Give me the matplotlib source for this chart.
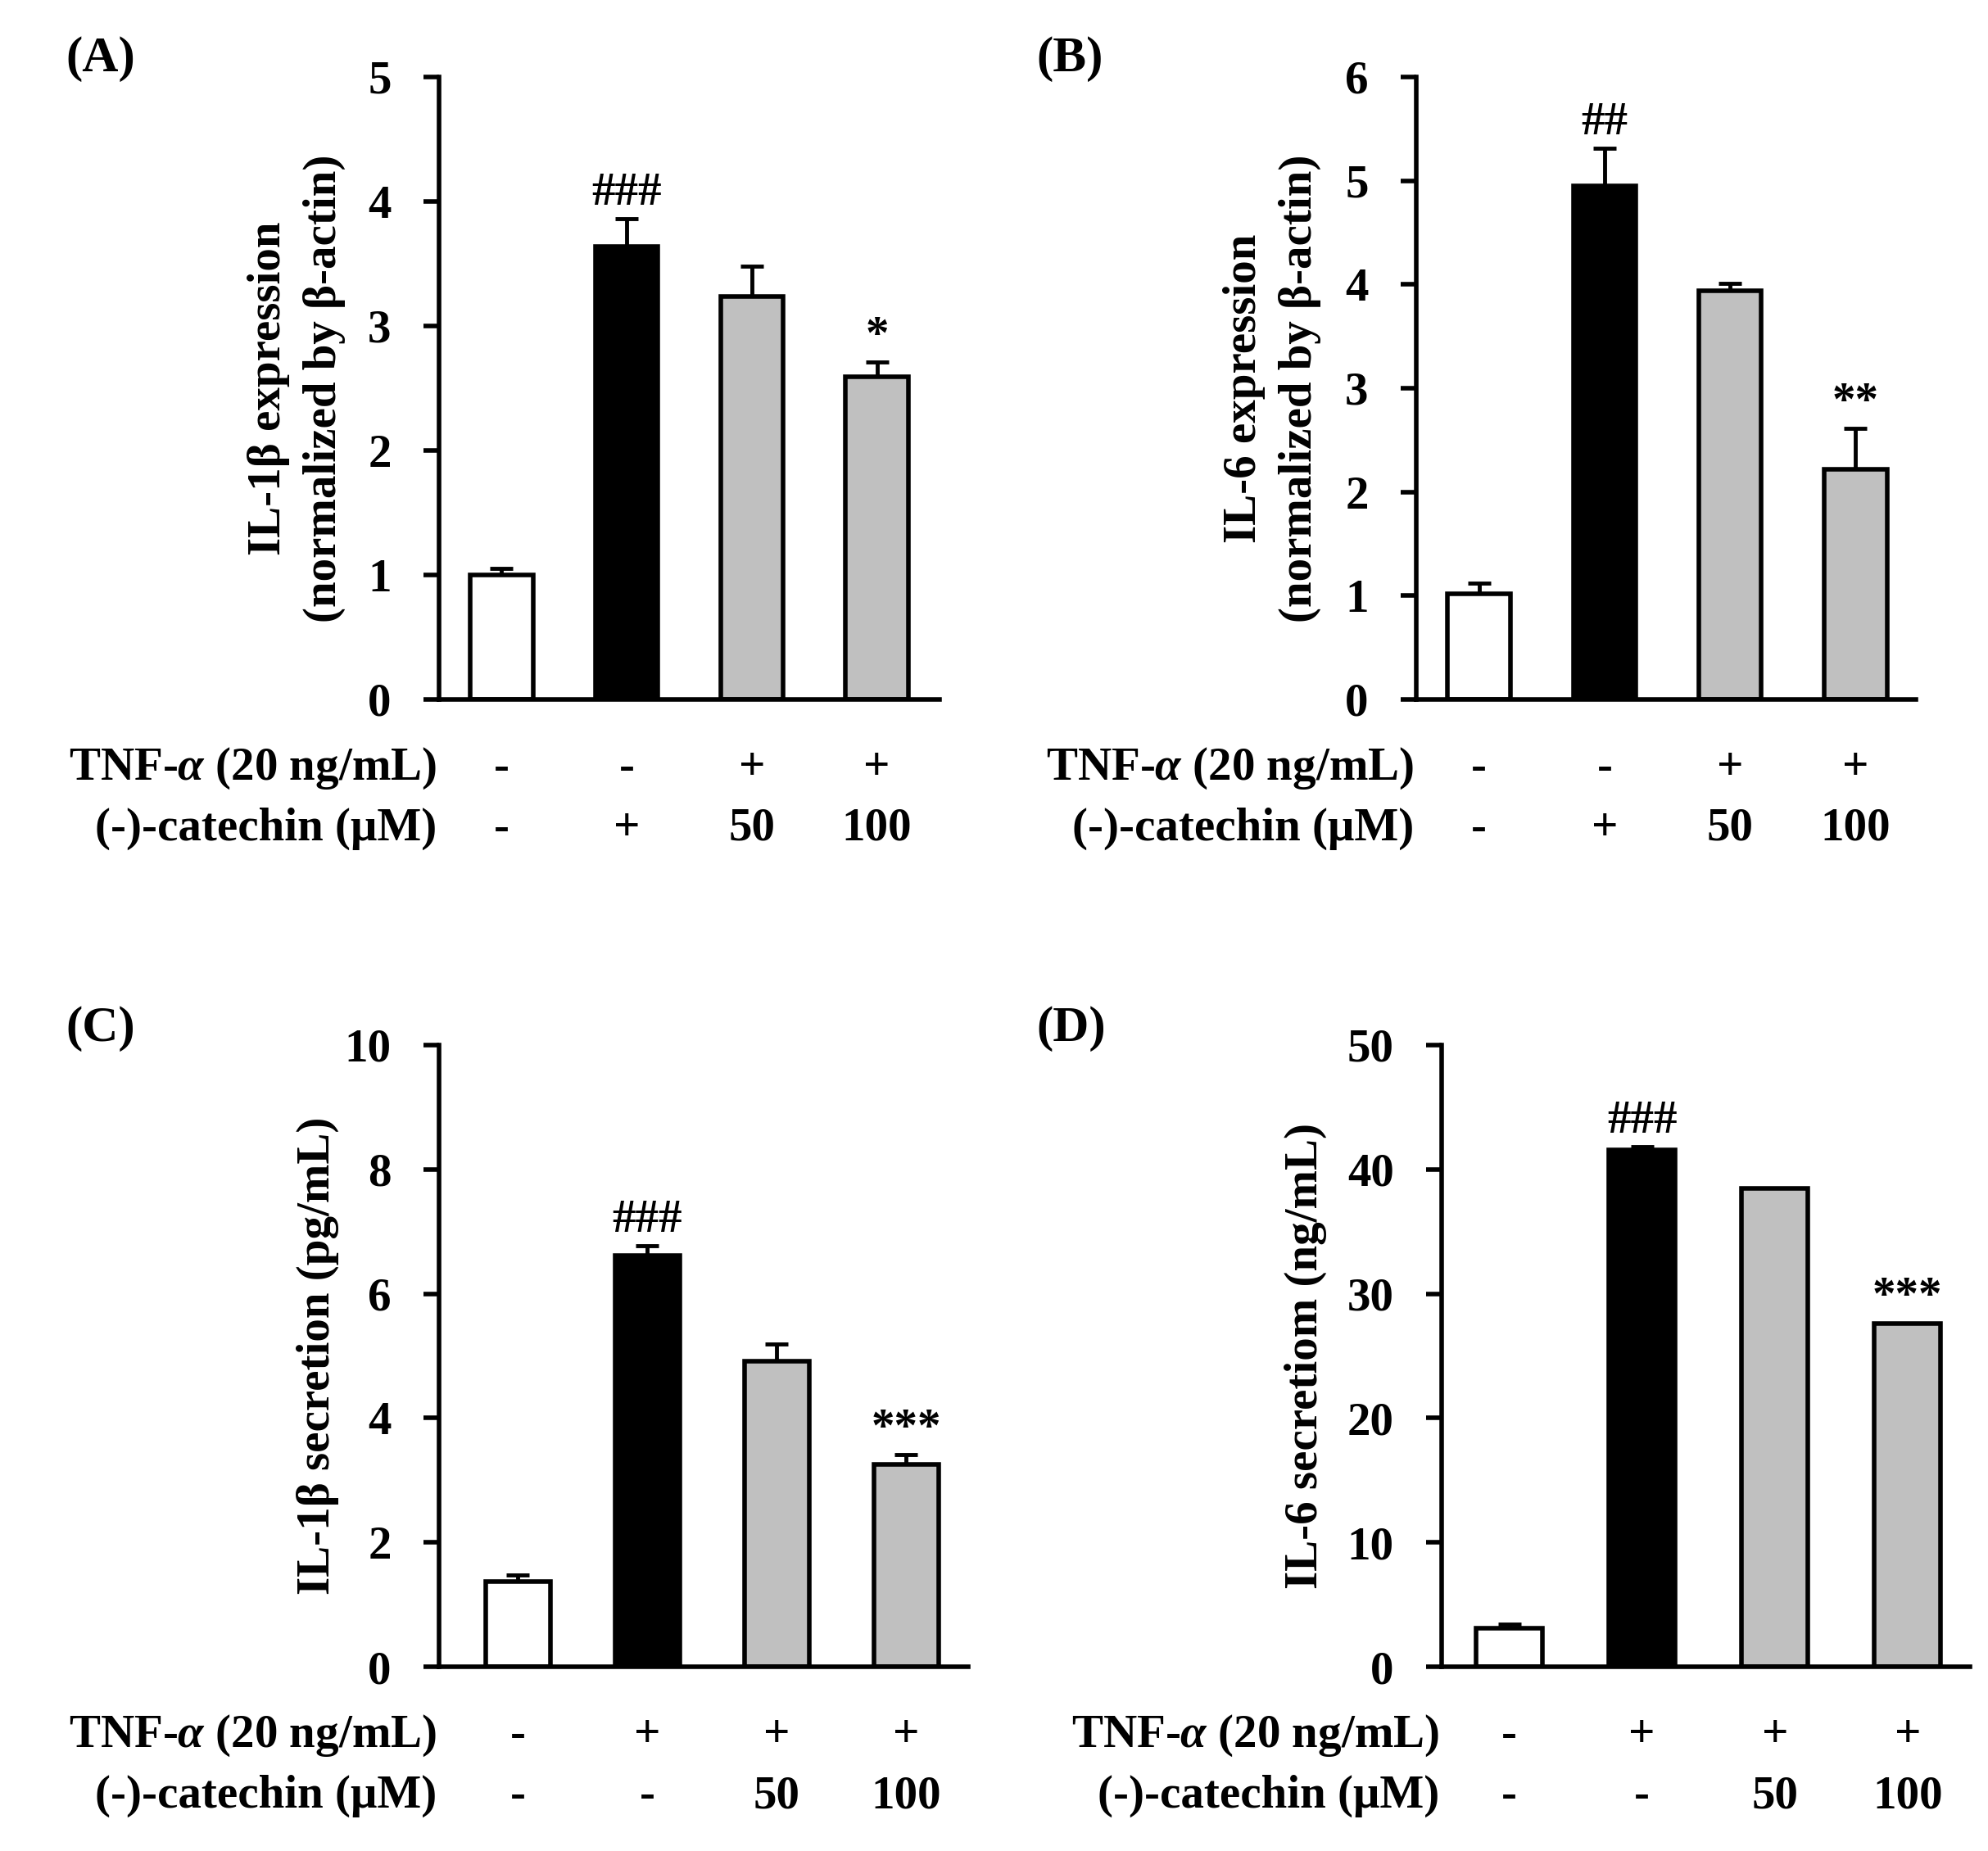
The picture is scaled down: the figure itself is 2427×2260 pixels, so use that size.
import matplotlib
matplotlib.use("Agg")
import matplotlib.pyplot as plt

plt.rcParams['font.family'] = ['Liberation Serif', 'DejaVu Serif']
plt.rcParams['font.weight'] = 'bold'
plt.rcParams['mathtext.fontset'] = 'custom'
plt.rcParams['mathtext.rm'] = 'Liberation Serif:bold'
plt.rcParams['mathtext.it'] = 'Liberation Serif:italic:bold'

# data
il1b_expr = [1.00, 3.64, 3.24, 2.59]
il1b_expr_err = [0.05, 0.22, 0.24, 0.12]
il6_expr = [1.02, 4.95, 3.94, 2.22]
il6_expr_err = [0.10, 0.36, 0.07, 0.39]
il1b_sec = [1.37, 6.62, 4.92, 3.26]
il1b_sec_err = [0.10, 0.15, 0.27, 0.15]
il6_sec = [3.1, 41.6, 38.5, 27.6]
il6_sec_err = [0.3, 0.2, 0.0, 0.0]

tnf_AB = ['-', '-', '+', '+']
cat_AB = ['-', '+', '50', '100']
tnf_CD = ['-', '+', '+', '+']
cat_CD = ['-', '-', '50', '100']

marks_A = ['', '###', '', '*']
marks_B = ['', '##', '', '**']
marks_C = ['', '###', '', '***']
marks_D = ['', '###', '', '***']

colors = ['white', 'black', '#c0c0c0', '#c0c0c0']

W, H = 2427, 2260
fig = plt.figure(figsize=(W / 100, H / 100), dpi=100)
FS = 41


def panel(box, vals, errs, ymax, step, xlim, tnf, cat, marks, ylabel, ylab_x):
    l, r, t, b = box
    ax = fig.add_axes([l / W, 1 - b / H, (r - l) / W, (b - t) / H])
    x = range(len(vals))
    ax.bar(x, vals, width=0.5, color=colors, edgecolor='black', linewidth=4, zorder=2)
    ax.errorbar(x, vals, yerr=[[0] * len(vals), errs], fmt='none', ecolor='black',
                elinewidth=3.5, capsize=10, capthick=3.5, zorder=1)
    ax.set_xlim(*xlim)
    ax.set_ylim(0, ymax)
    ax.set_yticks([i * step for i in range(int(round(ymax / step)) + 1)])
    ax.set_xticks([])
    for s in ['top', 'right']:
        ax.spines[s].set_visible(False)
    for s in ['left', 'bottom']:
        ax.spines[s].set_linewidth(4)
    ax.tick_params(axis='y', length=14, width=4, pad=28, labelsize=FS)
    for lab in ax.get_yticklabels():
        lab.set_fontweight('bold')
    ah = b - t
    y1 = -84 / ah
    y2 = -158 / ah
    tr = ax.get_xaxis_transform()
    ax.text(-0.005, y1, r'TNF-$\it{\alpha}$ (20 ng/mL)', transform=ax.transAxes,
            ha='right', va='center', fontsize=FS, fontweight='bold')
    ax.text(-0.005, y2, '(-)-catechin (\u03bcM)', transform=ax.transAxes,
            ha='right', va='center', fontsize=FS, fontweight='bold')
    for i in x:
        ax.text(i, y1, tnf[i], transform=tr, ha='center', va='center', fontsize=FS, fontweight='bold')
        ax.text(i, y2, cat[i], transform=tr, ha='center', va='center', fontsize=FS, fontweight='bold')
        if marks[i]:
            ax.annotate(marks[i], (i, vals[i] + errs[i]), xytext=(0, 4), textcoords='offset points',
                        ha='center', va='bottom', fontsize=FS, fontweight='bold')
    fig.text(ylab_x / W, 1 - ((t + b) / 2) / H, ylabel, rotation=90, ha='center', va='center',
             fontsize=FS, fontweight='bold', linespacing=1.4, multialignment='center')
    return ax


panel((536, 1147, 94, 854), il1b_expr, il1b_expr_err, 5, 1, (-0.5, 3.5), tnf_AB, cat_AB, marks_A,
      'IL-1\u03b2 expression\n(normalized by \u03b2-actin)', 362)
panel((1729, 2339, 94, 854), il6_expr, il6_expr_err, 6, 1, (-0.5, 3.48), tnf_AB, cat_AB, marks_B,
      'IL-6 expression\n(normalized by \u03b2-actin)', 1553)
panel((536, 1182, 1276, 2035), il1b_sec, il1b_sec_err, 10, 2, (-0.61, 3.48), tnf_CD, cat_CD, marks_C,
      'IL-1\u03b2 secretion (pg/mL)', 388)
panel((1760, 2405, 1276, 2035), il6_sec, il6_sec_err, 50, 10, (-0.51, 3.47), tnf_CD, cat_CD, marks_D,
      'IL-6 secretiom (ng/mL)', 1594)

# panel letters
for letter, lx, ly in [('(A)', 80, 72), ('(B)', 1265, 72), ('(C)', 80, 1256), ('(D)', 1265, 1256)]:
    fig.text(lx / W, 1 - ly / H, letter, ha='left', va='center', fontsize=44, fontweight='bold')

fig.savefig('out.png', dpi=100)
